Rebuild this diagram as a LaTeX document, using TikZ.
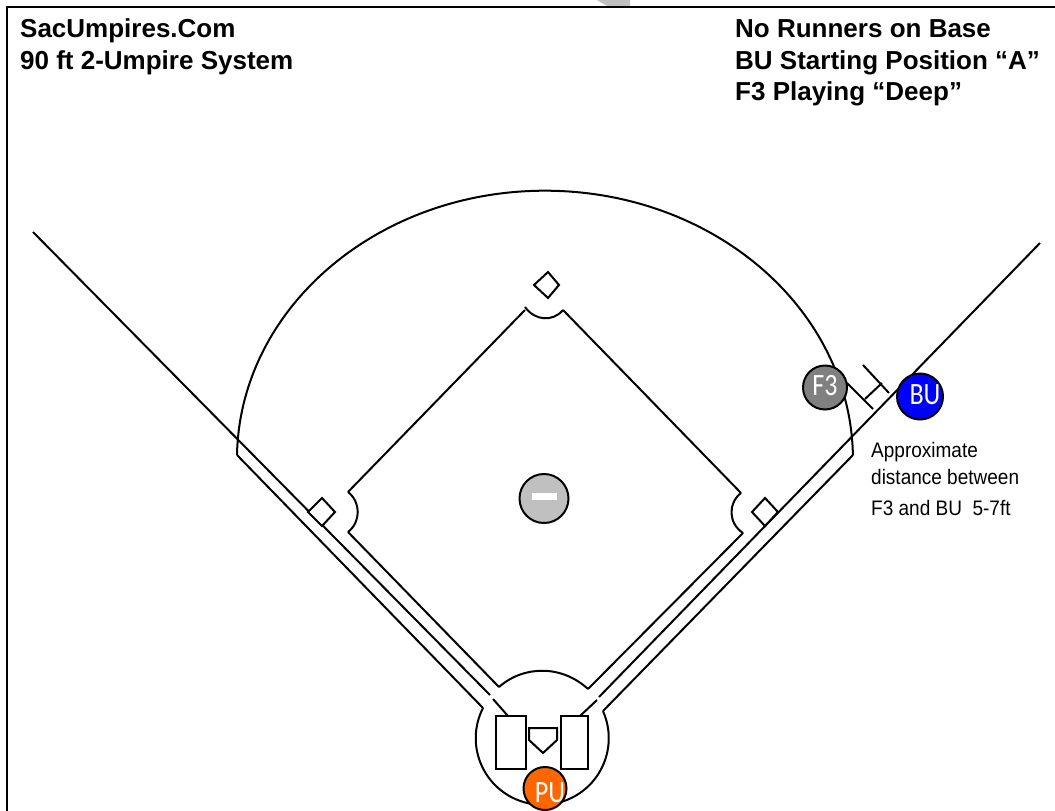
\documentclass[tikz,border=0pt]{standalone}
\usepackage{fontspec}
\setmainfont{Liberation Sans}
\newfontfamily\plfont{Carlito}
\newcommand{\plab}[1]{\scalebox{.84}[1]{#1}}
\newcommand{\ntxt}[1]{\scalebox{.905}[1]{#1}}
\tikzset{
  fieldline/.style={draw=black,line width=2pt,line join=miter},
  player/.style={circle,draw=black,line width=2pt,minimum size=#1,inner sep=0pt},
  title/.style={anchor=base west,inner sep=0pt,font=\fontsize{26}{30}\selectfont\bfseries},
  note/.style={anchor=base west,inner sep=0pt,font=\fontsize{21}{25}\selectfont},
  plabel/.style={text=white,inner sep=0pt,font=\plfont\fontsize{31}{34}\selectfont},
}
\begin{document}
\begin{tikzpicture}[x=1pt,y=-1pt]
\useasboundingbox (0,0) rectangle (1055,811);
\fill[white] (0,0) rectangle (1055,811);
\fill[black!25] (597,0) -- (630,0) -- (630,6) -- (607,6) -- cycle;
\draw[fieldline,line width=2.4pt] (7,811) -- (7,7) -- (1055,7);
% grass arc and outer lines
\draw[fieldline] (237,455) arc[start angle=181,end angle=359,x radius=308,y radius=269];
\draw[fieldline] (33,232) -- (490,695);
\draw[fieldline] (493,699) -- (508,716);
\draw[fieldline] (1040,243) -- (599,697);
\draw[fieldline] (597,700) -- (580,716);
\draw[fieldline] (237,455) -- (483,708);
\draw[fieldline] (853,455) -- (603,711);
% home circle
\draw[fieldline] (499,687) .. controls (524,665) and (562,665) .. (588,689);
\draw[fieldline] (483,708) arc[start angle=207,end angle=-24,x radius=66.5,y radius=66.5];
% infield
\draw[fieldline] (499,687) -- (348,532);
\draw[fieldline] (588,689) -- (743,533);
\draw[fieldline] (348,532) .. controls (361,522) and (361,502) .. (348,492);
\draw[fieldline] (741,493) .. controls (728,503) and (728,523) .. (743,533);
\draw[fieldline] (348,492) -- (525,310);
\draw[fieldline] (741,493) -- (563,310);
\draw[fieldline] (525,307) .. controls (535,321) and (553,322) .. (563,310);
% bases
\draw[fieldline,fill=white] (548,272) -- (559,285) -- (548,298) -- (534,285) -- cycle;
\draw[fieldline,fill=white] (322,498) -- (335,512) -- (322,526) -- (308,512) -- cycle;
\draw[fieldline,fill=white] (765,498) -- (778,512) -- (765,526) -- (752,512) -- cycle;
% batter boxes and plate
\draw[fieldline,fill=white] (496,716) rectangle (526,769);
\draw[fieldline,fill=white] (561,716) rectangle (588,769);
\draw[fieldline,fill=white] (529,728) -- (557,728) -- (557,740) -- (543,753) -- (529,740) -- cycle;
% bracket
\draw[fieldline] (847,383) -- (873,409);
\draw[fieldline] (863,365) -- (889,393);
\draw[fieldline] (865,399) -- (882,383);
% players
\node[player=43pt,fill={rgb,255:red,255;green,102;blue,0}] (pu) at (545,788.5) {};
\node[plabel] (pul) at (550,793) {\plab{PU}};
\node[player=44pt,fill={rgb,255:red,128;green,128;blue,128}] (f3) at (825,387.5) {};
\node[plabel] (f3l) at (825,386) {\plab{F3}};
\node[player=46pt,fill={rgb,255:red,0;green,0;blue,255}] (bu) at (920,396.5) {};
\node[plabel] (bul) at (925,395) {\plab{BU}};
\node[player=49pt,fill={rgb,255:red,192;green,192;blue,192}] (p) at (544,498.5) {};
\fill[white] (532,493) rectangle (557,500);
% text
\node[title] (t1) at (20,37) {SacUmpires.Com};
\node[title] (t2) at (20,69) {90 ft 2-Umpire System};
\node[title] (t3) at (735,37) {No Runners on Base};
\node[title] (t4) at (735,69) {BU Starting Position “A”};
\node[title] (t5) at (735,100) {F3 Playing “Deep”};
\node[note] (n1) at (871,457) {\ntxt{Approximate}};
\node[note] (n2) at (871,484) {\ntxt{distance between}};
\node[note] (n3) at (871,515) {\ntxt{F3 and BU\ \ 5-7ft}};
\end{tikzpicture}
\end{document}
